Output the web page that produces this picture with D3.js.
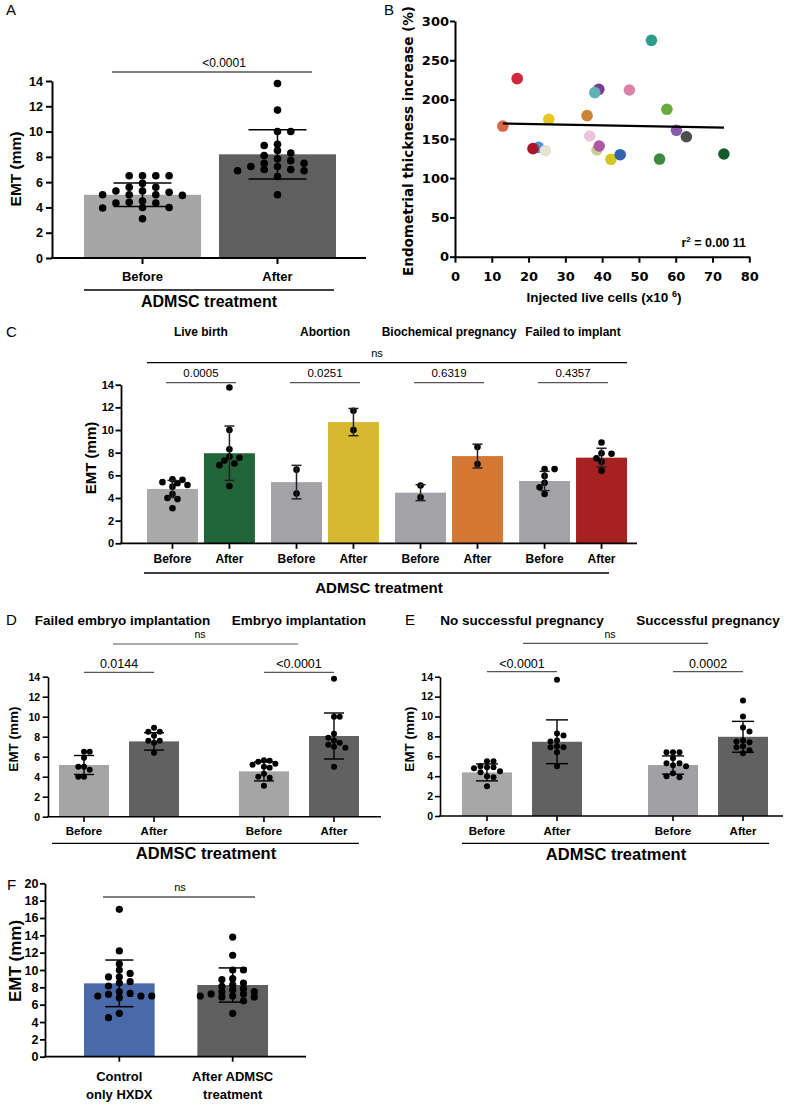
<!DOCTYPE html>
<html>
<head>
<meta charset="utf-8">
<script src="https://cdn.jsdelivr.net/npm/d3@7/dist/d3.min.js"></script>
<style>
body { margin: 0; background: #fff; }
</style>
</head>
<body>
<svg id="fig" width="795" height="1106"></svg>
<script>
/////////////////// Data ///////////////////

var treat = ["Before", "After"];

// A - all patients
var aMean = [5.0, 8.2];
var aSD = [0.93, 1.95];
var aBefore = [6.5, 6.5, 6.5, 6.5, 5.9, 5.6, 5.6, 5.3, 5.3, 5.2, 5.0, 5.0, 5.0, 4.95, 4.5, 4.4, 4.35, 4.35, 4.0, 4.0, 3.95, 3.1];
var aAfter = [13.8, 11.7, 10.0, 10.0, 9.0, 8.9, 8.5, 8.3, 8.1, 7.85, 7.7, 7.5, 7.5, 7.24, 7.24, 7.0, 7.0, 6.9, 6.9, 6.45, 5.0];
var aP = "<0.0001";

// B - injected cells vs thickness increase
var bCells = [13.0, 16.9, 22.7, 21.2, 24.6, 25.5, 35.9, 36.6, 38.6, 39.2, 39.1, 38.0, 42.4, 44.9, 47.4, 53.4, 55.6, 57.6, 60.2, 62.9, 73.1];
var bIncrease = [166.3, 226.6, 139.2, 137.5, 135.0, 174.9, 179.5, 153.6, 135.8, 140.9, 213.0, 208.8, 124.0, 129.8, 212.2, 275.4, 124.3, 187.6, 160.9, 152.7, 130.7];
var bColors = ["#d9664a", "#d0263e", "#4b94d6", "#a8162a", "#e6e3cf", "#e5c623", "#cf8234", "#ecc4dc", "#cfcb96", "#b057a5", "#7b3a96", "#5eb3b0", "#d4c61e", "#2f64ae", "#dc80aa", "#2e9e8c", "#3a8a3c", "#6aaa3c", "#8c5aa8", "#4e4e4e", "#155a2c"];
var bR2 = "0.00 11";

// C - by outcome
var cGroups = ["Live birth", "Abortion", "Biochemical pregnancy", "Failed to implant"];
var cMean = [[4.8, 7.95], [5.4, 10.7], [4.47, 7.7], [5.5, 7.56]];
var cSD = [[0.75, 2.4], [1.48, 1.2], [0.7, 1.05], [0.85, 0.83]];
var cDots = [
  [[5.65, 5.6, 5.4, 5.3, 5.15, 5.0, 4.35, 4.0, 3.9, 3.1], [13.75, 10.0, 8.3, 7.65, 7.55, 7.3, 7.05, 6.9, 5.05]],
  [[6.5, 4.4], [11.7, 10.0]],
  [[5.1, 4.05], [8.5, 7.0]],
  [[6.55, 6.55, 5.95, 5.35, 4.95, 4.35], [8.9, 7.95, 7.9, 7.5, 7.2, 6.4]]
];
var cColors = [["#a9a9a9", "#216638"], ["#a3a2a7", "#d7b92f"], ["#a3a2a7", "#d47833"], ["#a3a2a7", "#a52220"]];
var cP = ["0.0005", "0.0251", "0.6319", "0.4357"];

// D - implantation
var dGroups = ["Failed embryo implantation", "Embryo implantation"];
var dMean = [[5.17, 7.53], [4.53, 8.07]];
var dSD = [[0.95, 0.87], [0.95, 2.3]];
var dDots = [
  [[6.5, 6.5, 5.9, 5.0, 5.0, 4.7, 4.0, 4.0], [8.9, 8.5, 8.5, 8.1, 7.6, 7.6, 7.4, 6.4]],
  [[5.65, 5.6, 5.5, 5.3, 5.2, 5.0, 4.9, 4.3, 4.0, 3.9, 3.1], [13.8, 10.0, 10.0, 8.3, 7.9, 7.6, 7.4, 7.2, 7.0, 6.9, 5.0]]
];
var dP = ["0.0144", "<0.0001"];

// E - pregnancy
var eGroups = ["No successful pregnancy", "Successful pregnancy"];
var eMean = [[4.38, 7.46], [5.12, 7.96]];
var eSD = [[0.85, 2.2], [0.92, 1.55]];
var eDots = [
  [[5.5, 5.5, 5.0, 4.9, 4.9, 4.8, 4.5, 4.4, 4.0, 3.9, 3.0], [13.7, 8.3, 8.1, 7.6, 7.5, 7.0, 6.9, 6.9, 6.4, 5.0]],
  [[6.4, 6.4, 6.4, 5.8, 5.3, 5.3, 5.1, 5.0, 4.3, 4.0, 3.9], [11.6, 10.0, 8.9, 8.5, 7.6, 7.5, 7.4, 7.0, 6.9, 6.6, 6.3]]
];
var eP = ["<0.0001", "0.0002"];

// F - control vs treated
var fCats = [["Control", "only HXDX"], ["After ADMSC", "treatment"]];
var fMean = [8.46, 8.27];
var fSD = [2.69, 1.97];
var fControl = [17.0, 12.2, 10.7, 10.0, 9.6, 9.2, 9.2, 8.65, 8.5, 8.15, 7.5, 7.3, 7.2, 7.0, 7.0, 7.0, 6.8, 5.0, 4.5];

/////////////////// Helpers ///////////////////

var FONT = "'Liberation Sans', Arial, Helvetica, sans-serif";
var WIDE = "'DejaVu Sans', Verdana, sans-serif";
var svg = d3.select("#fig");

function txt(x, y, s, size, o) {
  o = o || {};
  var t = svg.append("text").attr("x", x).attr("y", y).text(s)
    .attr("font-size", size)
    .attr("font-family", o.family || FONT)
    .attr("font-weight", o.bold ? "bold" : "normal")
    .attr("text-anchor", o.anchor || "middle")
    .attr("fill", o.color || "#000");
  if (o.rotate) t.attr("transform", "rotate(-90," + x + "," + y + ")");
  if (o.len) t.attr("textLength", o.len).attr("lengthAdjust", "spacingAndGlyphs");
  return t;
}

function hline(x1, x2, y, w, c) {
  svg.append("line").attr("x1", x1).attr("x2", x2).attr("y1", y).attr("y2", y)
    .attr("stroke", c || "#000").attr("stroke-width", w || 1);
}

// place dots side by side when they would overlap (like a column scatter),
// filling whichever side of the column has fewer dots so far
function swarm(vals, y, r, step, tight) {
  var placed = [];
  var minD = 2 * r * (tight || 0.9);
  function free(off, py) {
    return !placed.some(function(p) {
      var dx = (p.off - off) * step, dy = p.py - py;
      return Math.sqrt(dx * dx + dy * dy) < minD;
    });
  }
  vals.slice().sort(function(a, b) { return b - a; }).forEach(function(v) {
    var py = y(v);
    var bal = d3.sum(placed, function(p) { return Math.sign(p.off); });
    for (var k = 0; k < 40; k++) {
      var cand = k == 0 ? [0] : (bal > 0 ? [-k, k] : [k, -k]);
      var hit = cand.filter(function(off) { return free(off, py); });
      if (hit.length) { placed.push({v: v, off: hit[0], py: py}); break; }
    }
  });
  return placed;
}

function styleAxis(ax, w, size, family) {
  ax.select(".domain").attr("stroke-width", w).attr("stroke", "#000");
  ax.selectAll(".tick line").attr("stroke-width", w).attr("stroke", "#000");
  ax.selectAll(".tick text").attr("font-size", size).attr("font-weight", "bold")
    .attr("font-family", family || FONT).attr("fill", "#000");
}

function barPanel(o) {
  var g = svg.append("g");
  var y = d3.scaleLinear().domain([0, o.yMax]).range([o.y0, o.yTop]);
  var outer = d3.scaleBand().domain(d3.range(o.means.length)).range(o.range).paddingInner(o.groupPad || 0);
  var inner = d3.scaleBand().domain(d3.range(o.means[0].length)).range([0, outer.bandwidth()]).paddingInner(o.subPad);

  var bars = [];
  o.means.forEach(function(row, gi) {
    row.forEach(function(m, si) {
      var x = outer(gi) + inner(si);
      bars.push({gi: gi, si: si, mean: m, sd: o.sds[gi][si], dots: o.dots[gi][si],
        color: o.colors[gi][si], x: x, cx: x + inner.bandwidth() / 2});
    });
  });

  g.selectAll("rect.bar").data(bars).join("rect")
    .attr("class", "bar")
    .attr("x", function(d) { return d.x; })
    .attr("y", function(d) { return y(d.mean); })
    .attr("width", inner.bandwidth())
    .attr("height", function(d) { return o.y0 - y(d.mean); })
    .attr("fill", function(d) { return d.color; });

  bars.forEach(function(b) {
    swarm(b.dots, y, o.r, o.step, o.tight).forEach(function(p) {
      g.append("circle").attr("cx", b.cx + p.off * o.step).attr("cy", p.py).attr("r", o.r).attr("fill", "#000");
    });
  });

  // error bars (mean +/- SD)
  bars.forEach(function(b) {
    var t = y(b.mean + b.sd), bt = y(b.mean - b.sd);
    var c = o.errColor || "#000";
    g.append("line").attr("x1", b.cx).attr("x2", b.cx).attr("y1", t).attr("y2", bt).attr("stroke", c).attr("stroke-width", o.errW);
    [t, bt].forEach(function(yy) {
      g.append("line").attr("x1", b.cx - o.cap).attr("x2", b.cx + o.cap).attr("y1", yy).attr("y2", yy)
        .attr("stroke", c).attr("stroke-width", o.errW);
    });
  });

  var ax = g.append("g").attr("transform", "translate(" + o.x0 + ",0)")
    .call(d3.axisLeft(y).tickValues(d3.range(0, o.yMax + 0.01, o.tick)).tickSize(o.tickLen).tickSizeOuter(0).tickPadding(o.tickPad));
  styleAxis(ax, o.axisW, o.tickFont);

  g.append("line").attr("x1", o.x0 - o.axisW / 2).attr("x2", o.xEnd).attr("y1", o.y0).attr("y2", o.y0)
    .attr("stroke", "#000").attr("stroke-width", o.axisW);
  bars.forEach(function(b) {
    g.append("line").attr("x1", b.cx).attr("x2", b.cx).attr("y1", o.y0).attr("y2", o.y0 + o.tickLen)
      .attr("stroke", "#000").attr("stroke-width", o.axisW);
    o.cats(b.gi, b.si).forEach(function(s, li) {
      txt(b.cx, o.y0 + o.catDy + li * o.catLine, s, o.catFont, {bold: true});
    });
  });

  return {y: y, centers: d3.range(o.means.length).map(function(i) { return outer(i) + outer.bandwidth() / 2; })};
}

/////////////////// Panel A ///////////////////

barPanel({
  x0: 52, y0: 258, yTop: 81, yMax: 14, tick: 2, xEnd: 366,
  range: [84, 336], subPad: 0.133,
  means: [aMean], sds: [aSD], dots: [[aBefore, aAfter]], colors: [["#a6a6a6", "#5f5f5f"]],
  r: 3.8, step: 13.3, tight: 0.78, cap: 29, errW: 1.5,
  axisW: 2, tickLen: 6, tickPad: 3, tickFont: 12.5,
  cats: function(gi, si) { return [treat[si]]; }, catDy: 23, catLine: 0, catFont: 13
});
txt(6, 15, "A", 15, {anchor: "start"});
txt(21, 169, "EMT (mm)", 15.5, {bold: true, rotate: true});
hline(112, 312, 72, 1.2);
txt(224, 67, aP, 12);
hline(84, 334, 290, 1.3);
txt(209, 307, "ADMSC treatment", 16, {bold: true});

/////////////////// Panel B ///////////////////

var xB = d3.scaleLinear().domain([0, 80]).range([455, 749.3]);
var yB = d3.scaleLinear().domain([0, 300]).range([256.7, 21]);

var gB = svg.append("g");
gB.selectAll("circle").data(bCells).join("circle")
  .attr("cx", function(d) { return xB(d); })
  .attr("cy", function(d, i) { return yB(bIncrease[i]); })
  .attr("r", 5.8)
  .attr("fill", function(d, i) { return bColors[i]; });

// least squares line
var mx = d3.mean(bCells), my = d3.mean(bIncrease);
var sxy = d3.sum(bCells, function(d, i) { return (d - mx) * (bIncrease[i] - my); });
var sxx = d3.sum(bCells, function(d) { return (d - mx) * (d - mx); });
var slope = sxy / sxx, icpt = my - slope * mx;
var xr = d3.extent(bCells);
gB.append("line")
  .attr("x1", xB(xr[0])).attr("y1", yB(icpt + slope * xr[0]))
  .attr("x2", xB(xr[1])).attr("y2", yB(icpt + slope * xr[1]))
  .attr("stroke", "#000").attr("stroke-width", 2.2);

var axBy = gB.append("g").attr("transform", "translate(455,0)")
  .call(d3.axisLeft(yB).tickValues(d3.range(0, 301, 50)).tickSize(5).tickSizeOuter(0).tickPadding(1));
styleAxis(axBy, 2, 13, WIDE);
var axBx = gB.append("g").attr("transform", "translate(0,256.7)")
  .call(d3.axisBottom(xB).tickValues(d3.range(0, 81, 10)).tickSize(6).tickSizeOuter(0).tickPadding(9));
styleAxis(axBx, 2, 13, WIDE);

txt(384, 15, "B", 15, {anchor: "start"});
txt(413, 141, "Endometrial thickness increase (%)", 13.5, {bold: true, rotate: true, family: WIDE, len: 270});
var xl = txt(604, 302, "Injected live cells (x10 ", 13.5, {bold: true});
xl.append("tspan").attr("dy", -5).attr("font-size", 9).text("6");
xl.append("tspan").attr("dy", 5).text(")");
var r2 = txt(746, 247, "r", 12.5, {bold: true, anchor: "end"});
r2.append("tspan").attr("dy", -5).attr("font-size", 8).text("2");
r2.append("tspan").attr("dy", 5).text(" = " + bR2);

/////////////////// Panel C ///////////////////

var pc = barPanel({
  x0: 121, y0: 543.3, yTop: 384.7, yMax: 14, tick: 2, xEnd: 637,
  range: [147, 627], groupPad: 0.13, subPad: 0.105,
  means: cMean, sds: cSD, dots: cDots, colors: cColors,
  r: 3.3, step: 5, cap: 5, errW: 1.5, errColor: "#222",
  axisW: 1.8, tickLen: 5.5, tickPad: 1.5, tickFont: 11,
  cats: function(gi, si) { return [treat[si]]; }, catDy: 20, catLine: 0, catFont: 12
});
txt(6, 337, "C", 15, {anchor: "start"});
txt(96, 458, "EMT (mm)", 15, {bold: true, rotate: true});
pc.centers.forEach(function(c, i) {
  txt(c, 336, cGroups[i], 12, {bold: true});
  hline(c - 35, c + 35, 382.7, 1.2, "#555");
  txt(c, 377, cP[i], 11.5);
});
hline(147, 627, 362.7, 1.2);
txt(377, 357, "ns", 11);
hline(144, 609, 573, 1.3);
txt(379, 593, "ADMSC treatment", 15, {bold: true});

/////////////////// Panel D ///////////////////

var pd = barPanel({
  x0: 48, y0: 816.7, yTop: 676.7, yMax: 14, tick: 2, xEnd: 381,
  range: [59, 359], groupPad: 0.333, subPad: 0.286,
  means: dMean, sds: dSD, dots: dDots, colors: [["#a5a5a5", "#616161"], ["#a5a5a5", "#616161"]],
  r: 3, step: 5.7, cap: 10, errW: 1.4,
  axisW: 1.6, tickLen: 5.3, tickPad: 2.5, tickFont: 10.5,
  cats: function(gi, si) { return [treat[si]]; }, catDy: 18.5, catLine: 0, catFont: 11.5
});
txt(6, 625, "D", 15, {anchor: "start"});
txt(18, 739, "EMT (mm)", 13.5, {bold: true, rotate: true});
pd.centers.forEach(function(c, i) {
  txt(c + (i == 0 ? 3.5 : 0), 625, dGroups[i], 13.5, {bold: true});
  hline(c - 35, c + 35, 672.3, 1.2, "#555");
  txt(c, 668, dP[i], 12.5);
});
hline(113, 298, 644, 1.2, "#555");
txt(200, 638, "ns", 10.5);
hline(52, 359, 843.3, 1.3);
txt(206, 859, "ADMSC treatment", 16.5, {bold: true});

/////////////////// Panel E ///////////////////

var pe = barPanel({
  x0: 440, y0: 816, yTop: 676.7, yMax: 14, tick: 2, xEnd: 783,
  range: [462, 768], groupPad: 0.355, subPad: 0.286,
  means: eMean, sds: eSD, dots: eDots, colors: [["#a7a7a7", "#616161"], ["#a1a0a5", "#616161"]],
  r: 3, step: 6.5, cap: 11, errW: 1.4,
  axisW: 1.6, tickLen: 5, tickPad: 2, tickFont: 10.5,
  cats: function(gi, si) { return [treat[si]]; }, catDy: 18.5, catLine: 0, catFont: 11.5
});
txt(405, 625, "E", 15, {anchor: "start"});
txt(414, 739, "EMT (mm)", 13.5, {bold: true, rotate: true});
pe.centers.forEach(function(c, i) {
  txt(c, 625, eGroups[i], 13.5, {bold: true});
  hline(c - 35, c + 35, 671.7, 1.2, "#555");
  txt(c, 668, eP[i], 12.5);
});
hline(523, 708, 643.3, 1.2, "#555");
txt(610, 638, "ns", 10.5);
hline(462, 769, 843.3, 1.3);
txt(616, 860, "ADMSC treatment", 16.5, {bold: true});

/////////////////// Panel F ///////////////////

barPanel({
  x0: 45, y0: 1056.7, yTop: 883.3, yMax: 20, tick: 2, xEnd: 306,
  range: [84, 268], subPad: 0.377,
  means: [fMean], sds: [fSD], dots: [[fControl, aAfter]], colors: [["#4a69a9", "#5f5f5f"]],
  r: 3.6, step: 10.8, tight: 0.72, cap: 14, errW: 1.5,
  axisW: 1.8, tickLen: 5, tickPad: 1.5, tickFont: 12.5,
  cats: function(gi, si) { return fCats[si]; }, catDy: 24.5, catLine: 17.5, catFont: 13
});
txt(7, 890, "F", 15, {anchor: "start"});
txt(21, 961, "EMT (mm)", 17, {bold: true, rotate: true});
hline(103, 255, 897, 1.2);
txt(180, 891, "ns", 11);
</script>
</body>
</html>
